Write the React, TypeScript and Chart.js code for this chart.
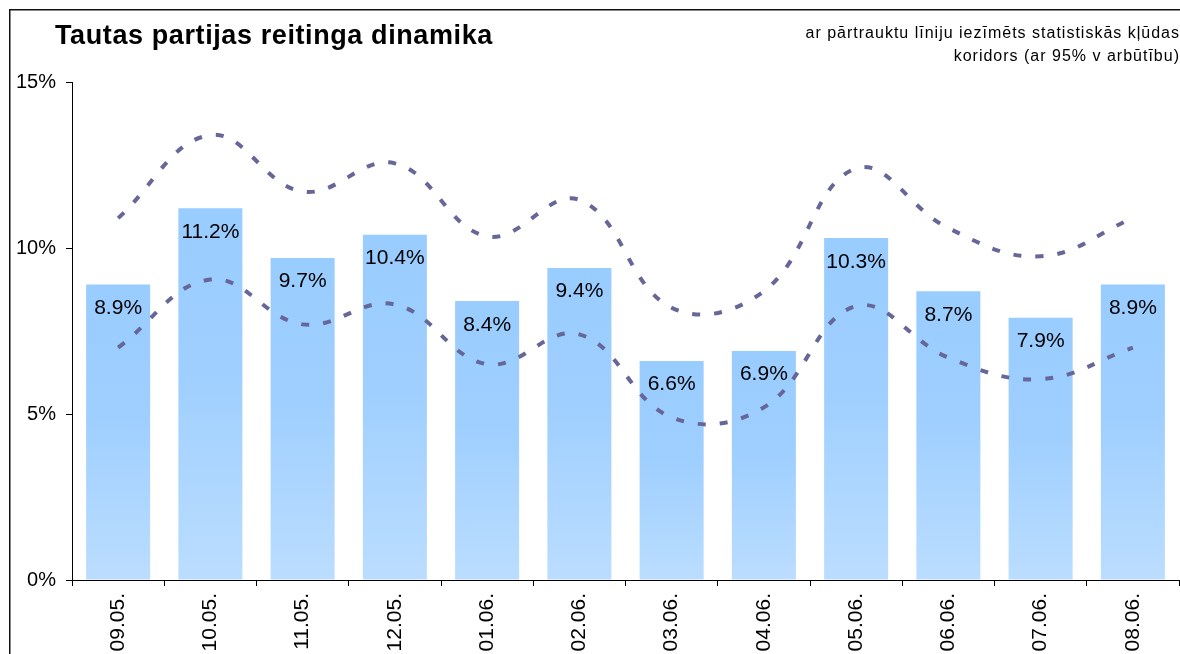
import React, { useEffect, useRef } from "react";
import { Chart, registerables } from "chart.js";

Chart.register(...registerables);

const categories = ["09.05.", "10.05.", "11.05.", "12.05.", "01.06.", "02.06.", "03.06.", "04.06.", "05.06.", "06.06.", "07.06.", "08.06."];
const rating = [8.9, 11.2, 9.7, 10.4, 8.4, 9.4, 6.6, 6.9, 10.3, 8.7, 7.9, 8.9];
const upperBound = [10.9, 13.4, 11.7, 12.55, 10.35, 11.45, 8.2, 8.7, 12.4, 10.6, 9.75, 10.9];
const lowerBound = [7.0, 9.05, 7.7, 8.3, 6.5, 7.4, 4.9, 5.2, 8.25, 6.7, 6.05, 7.0];
const yTicks = [0, 5, 10, 15];

const FONT = '"Liberation Sans", Arial, sans-serif';

const framePlugin = {
  id: "frame",
  beforeDraw(chart: any) {
    const ctx = chart.ctx;
    ctx.save();
    ctx.fillStyle = "#111";
    ctx.fillRect(9, 9, chart.width, 1.5);
    ctx.fillRect(9, 9, 1.5, chart.height);
    ctx.restore();
  },
};

const labelPlugin = {
  id: "barLabels",
  afterDatasetsDraw(chart: any) {
    const ctx = chart.ctx;
    const meta = chart.getDatasetMeta(0);
    ctx.save();
    ctx.font = `21px ${FONT}`;
    ctx.fillStyle = "#000";
    ctx.textAlign = "center";
    ctx.textBaseline = "alphabetic";
    meta.data.forEach((el: any, i: number) => {
      ctx.fillText(rating[i].toFixed(1) + "%", el.x, el.y + 29.5);
    });
    ctx.restore();
  },
};

export default function App() {
  const ref = useRef<HTMLCanvasElement>(null);
  useEffect(() => {
    if (!ref.current) return;
    const lineStyle = {
      type: "line",
      order: 1,
      borderColor: "#666699",
      borderWidth: 4,
      borderDash: [8, 14],
      borderCapStyle: "butt",
      pointRadius: 0,
      tension: 0.4,
      fill: false,
    };
    const chart = new Chart(ref.current, {
      type: "bar",
      data: {
        labels: categories,
        datasets: [
          {
            type: "bar",
            data: rating,
            order: 2,
            barPercentage: 0.694,
            categoryPercentage: 1,
            backgroundColor: (c: any) => {
              const ch = c.chart;
              const ys = ch.scales && ch.scales.y;
              if (!ys || !ch.chartArea || c.raw == null) return "#9dcdff";
              const top = ys.getPixelForValue(c.raw);
              const bottom = ys.getPixelForValue(0);
              if (!isFinite(top) || !isFinite(bottom) || top === bottom) return "#9dcdff";
              const g = ch.ctx.createLinearGradient(0, top, 0, bottom);
              g.addColorStop(0, "#99ccff");
              g.addColorStop(0.45, "#9fcfff");
              g.addColorStop(1, "#bbddff");
              return g;
            },
          } as any,
          { ...lineStyle, data: upperBound } as any,
          { ...lineStyle, data: lowerBound } as any,
        ],
      },
      options: {
        responsive: false,
        animation: false,
        devicePixelRatio: 1,
        layout: { padding: { top: 82, left: 0, right: 1, bottom: 0 } },
        plugins: { legend: { display: false }, tooltip: { enabled: false }, title: { display: false } },
        scales: {
          x: {
            offset: true,
            grid: { display: true, drawOnChartArea: false, drawTicks: true, tickLength: 6, color: "#000", offset: true },
            border: { display: true, color: "#000", width: 1 },
            ticks: {
              minRotation: 90,
              maxRotation: 90,
              autoSkip: false,
              padding: 7,
              color: "#000",
              font: { family: FONT, size: 21 },
            },
            afterFit: (s: any) => {
              s.height = 74;
            },
          },
          y: {
            min: 0,
            max: 15,
            afterBuildTicks: (s: any) => {
              s.ticks = yTicks.map((v) => ({ value: v }));
            },
            grid: { display: true, drawOnChartArea: false, drawTicks: true, tickLength: 6, color: "#000" },
            border: { display: true, color: "#000", width: 1 },
            ticks: {
              padding: 10,
              color: "#000",
              font: { family: FONT, size: 20 },
              callback: (v: any) => v + "%",
            },
            afterFit: (s: any) => {
              s.width = 72;
            },
          },
        },
      },
      plugins: [framePlugin, labelPlugin],
    } as any);
    return () => chart.destroy();
  }, []);

  return (
    <div style={{ position: "fixed", left: 0, top: 0, width: 1180, height: 654, overflow: "hidden", background: "#fff" }}>
      <canvas ref={ref} width={1180} height={654} style={{ position: "absolute", left: 0, top: 0, width: 1180, height: 654 }} />
      <div
        style={{
          position: "absolute",
          left: 55,
          top: 22,
          fontFamily: FONT,
          fontWeight: "bold",
          fontSize: 27,
          lineHeight: "27px",
          letterSpacing: "0.6px",
          color: "#000",
          whiteSpace: "nowrap",
        }}
      >
        Tautas partijas reitinga dinamika
      </div>
      <div
        style={{
          position: "absolute",
          right: 0,
          top: 21,
          fontFamily: FONT,
          fontSize: 16,
          lineHeight: "23px",
          letterSpacing: "1px",
          color: "#000",
          textAlign: "right",
          whiteSpace: "nowrap",
        }}
      >
        <div>ar pārtrauktu līniju iezīmēts statistiskās kļūdas</div>
        <div>koridors (ar 95% v arbūtību)</div>
      </div>
    </div>
  );
}
